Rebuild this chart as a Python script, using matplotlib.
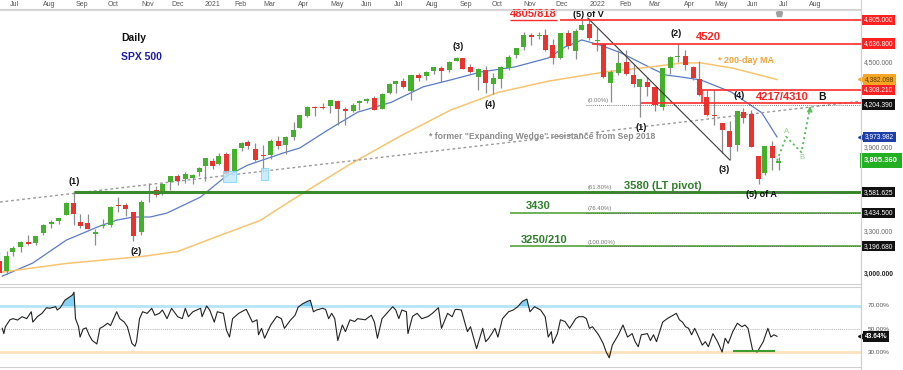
import numpy as np
import pandas as pd
import matplotlib
matplotlib.use("Agg")
import matplotlib.pyplot as plt
from matplotlib.patches import Rectangle

plt.rcParams['font.family'] = ['Liberation Sans', 'DejaVu Sans']

# ---------------- data ----------------
BASE = np.datetime64('2020-06-26')
HOLIDAYS = ['2020-07-03', '2020-09-07', '2020-11-26', '2020-12-25', '2021-01-01',
            '2021-01-18', '2021-02-15', '2021-04-02', '2021-05-31', '2021-07-05',
            '2021-09-06', '2021-11-25', '2021-12-24', '2022-01-17', '2022-02-21',
            '2022-04-15', '2022-05-30', '2022-06-20', '2022-07-04', '2022-09-05']

week_end = pd.date_range('2020-06-26', '2022-07-08', freq='W-FRI')

opens = [3094, 3018, 3155, 3191, 3224, 3219, 3288, 3356, 3380, 3418, 3507, 3371, 3363, 3285,
         3342, 3350, 3493, 3493, 3441, 3296, 3584, 3600, 3566, 3654, 3698, 3675, 3684,
         3723, 3764, 3803, 3781, 3851, 3731, 3892, 3939, 3885, 3843, 3844, 3942, 3917, 3971,
         4034, 4124, 4182, 4185, 4192, 4229, 4169, 4160, 4216, 4229, 4248, 4174, 4285, 4352,
         4373, 4297, 4416, 4407, 4439, 4463, 4450, 4514, 4536, 4474, 4402, 4450, 4348, 4385,
         4463, 4554, 4610, 4701, 4689, 4700, 4628, 4538, 4710, 4588, 4733,
         4778, 4655, 4632, 4357, 4431, 4505, 4412, 4332, 4363, 4327, 4188, 4462, 4541, 4548,
         4474, 4385, 4259, 4131, 4075, 4013, 3920, 4153, 4135, 3838, 3715, 3913, 3792]
highs = [3155, 3165, 3198, 3233, 3280, 3272, 3352, 3387, 3399, 3509, 3588, 3425, 3429, 3317,
         3393, 3482, 3550, 3502, 3441, 3529, 3646, 3628, 3645, 3699, 3712, 3727, 3711,
         3760, 3826, 3824, 3861, 3870, 3887, 3935, 3951, 3928, 3915, 3960, 3983, 3978, 4083,
         4129, 4191, 4194, 4218, 4238, 4238, 4188, 4217, 4234, 4249, 4262, 4286, 4356, 4372,
         4394, 4415, 4430, 4441, 4469, 4480, 4513, 4545, 4536, 4492, 4465, 4477, 4429, 4475,
         4559, 4608, 4718, 4714, 4718, 4743, 4672, 4713, 4731, 4740, 4808,
         4819, 4749, 4632, 4453, 4595, 4590, 4490, 4385, 4402, 4327, 4465, 4546, 4637, 4594,
         4476, 4512, 4308, 4307, 4076, 4090, 4158, 4177, 4168, 3838, 3913, 3946, 3832]
lows = [3004, 2999, 3128, 3153, 3209, 3203, 3280, 3328, 3356, 3416, 3349, 3330, 3322, 3209,
        3324, 3332, 3441, 3413, 3234, 3280, 3512, 3545, 3559, 3594, 3633, 3647, 3636,
        3699, 3663, 3749, 3775, 3694, 3725, 3874, 3885, 3805, 3723, 3815, 3891, 3853, 3955,
        4034, 4114, 4124, 4172, 4142, 4057, 4062, 4150, 4168, 4215, 4164, 4173, 4278, 4289,
        4321, 4233, 4372, 4382, 4424, 4367, 4436, 4513, 4456, 4427, 4305, 4289, 4278, 4322,
        4447, 4537, 4595, 4630, 4672, 4585, 4495, 4531, 4600, 4531, 4733,
        4662, 4582, 4395, 4223, 4415, 4411, 4327, 4115, 4262, 4157, 4162, 4424, 4507, 4450,
        4381, 4268, 4124, 4062, 3859, 3811, 3875, 4074, 3901, 3636, 3705, 3738, 3742]
closes = [3009, 3130, 3185, 3225, 3216, 3271, 3351, 3373, 3397, 3508, 3427, 3341, 3319, 3298,
          3348, 3477, 3484, 3465, 3270, 3510, 3585, 3558, 3638, 3699, 3663, 3709, 3703,
          3756, 3824, 3768, 3841, 3714, 3887, 3934, 3907, 3811, 3842, 3943, 3913, 3975, 4020,
          4129, 4185, 4180, 4181, 4233, 4174, 4156, 4204, 4230, 4247, 4166, 4281, 4352, 4370,
          4327, 4412, 4395, 4437, 4468, 4442, 4509, 4535, 4458, 4433, 4455, 4357, 4391, 4471,
          4545, 4605, 4697, 4682, 4698, 4595, 4538, 4712, 4620, 4726, 4766,
          4677, 4663, 4398, 4432, 4501, 4419, 4349, 4385, 4329, 4204, 4463, 4543, 4546, 4488,
          4393, 4272, 4132, 4123, 4024, 3901, 4158, 4109, 3901, 3675, 3911, 3825, 3805]

ma50_dates = ['2020-06-26', '2020-07-27', '2020-08-26', '2020-09-28', '2020-10-13', '2020-10-28',
              '2020-11-12', '2020-11-30', '2020-12-31', '2021-01-26', '2021-02-17', '2021-03-22',
              '2021-04-07', '2021-05-03', '2021-06-01', '2021-07-01', '2021-08-02', '2021-08-26',
              '2021-09-24', '2021-10-26', '2021-11-26', '2021-12-13', '2021-12-29', '2022-01-14',
              '2022-02-04', '2022-03-03', '2022-03-18', '2022-04-01', '2022-04-21', '2022-05-19',
              '2022-06-17', '2022-07-05']
ma50_vals = [2985, 3078, 3241, 3341, 3383, 3405, 3405, 3433, 3547, 3689, 3774, 3859, 3895,
             4020, 4150, 4220, 4330, 4379, 4436, 4471, 4535, 4613, 4663, 4627, 4570, 4471,
             4414, 4400, 4379, 4293, 4146, 3974]

ma200_dates = ['2020-06-26', '2020-08-26', '2020-11-05', '2020-12-09', '2021-01-15', '2021-03-01',
               '2021-04-07', '2021-05-24', '2021-07-12', '2021-08-26', '2021-10-11', '2021-11-26',
               '2022-01-21', '2022-03-04', '2022-04-04', '2022-04-21', '2022-05-20', '2022-07-05']
ma200_vals = [3014, 3075, 3125, 3160, 3263, 3380, 3560, 3780, 3980, 4165, 4290, 4370, 4437,
              4471, 4500, 4500, 4463, 4382]

# RSI(14): sessions since 26 Jun 2020, value in %
rsi_day = [0, 1, 2, 5, 7, 10, 13, 16, 19, 20, 23, 26, 29, 31, 35, 36, 38, 41, 46, 47, 48, 50,
           51, 53, 55, 57, 59, 62, 64, 66, 69, 71, 75, 77, 80, 82, 85, 87, 88, 90, 92, 95, 98,
           100, 103, 105, 108, 111, 115, 118, 120, 122, 125, 130, 131, 134, 136, 139, 141, 145,
           147, 149, 151, 155, 159, 160, 164, 167, 168, 170, 172, 176, 180, 183, 185, 189, 192,
           194, 197, 200, 202, 204, 206, 210, 212, 214, 216, 218, 220, 223, 225, 228, 231, 233,
           238, 242, 244, 246, 249, 253, 256, 258, 260, 262, 265, 266, 269, 272, 275, 279, 282,
           286, 288, 292, 295, 297, 299, 301, 305, 307, 310, 311, 315, 317, 319, 321, 323, 325,
           328, 332, 335, 338, 341, 344, 346, 349, 353, 356, 358, 360, 361, 364, 366, 369, 372,
           376, 378, 381, 383, 385, 387, 391, 394, 396, 398, 400, 404, 407, 410, 413, 415, 417,
           419, 423, 425, 427, 429, 433, 436, 440, 442, 444, 446, 448, 450, 452, 454, 456, 459,
           461, 463, 466, 469, 472, 474, 476, 479, 482, 485, 487, 489, 492, 495, 499, 502, 504,
           506, 508]
rsi_vals = [50.6, 46, 52, 58, 59, 57.8, 60.7, 59, 65, 56, 60.7, 63.6, 68.5, 68, 69.4, 66.5, 68.5,
            75, 79.5, 82, 59, 52, 43, 50, 51, 44.6, 40, 37, 50.6, 52, 55, 53, 65, 59, 56, 52,
            37.5, 35, 39, 59, 65, 63.6, 68, 62, 63.6, 66.5, 59, 68, 60.7, 59, 68, 60.7, 65, 68,
            60.7, 70, 66.5, 56, 65, 63.6, 49, 43, 59, 63.6, 66.5, 67, 56, 58, 45, 50.6, 42, 53.5,
            61, 59, 50.6, 57.8, 62, 69, 72, 74, 75, 65, 66.5, 68, 67, 59, 63.6, 59, 40, 53.5,
            47.7, 58, 56.5, 59, 58, 62, 56, 42, 59, 65, 69.4, 66.5, 59, 66.5, 65, 46, 61, 63.6,
            59, 60.7, 63.6, 68.5, 50.6, 63.6, 60.7, 67, 67, 66.5, 47.7, 52, 37.5, 33, 50.6, 39,
            42, 46, 50.6, 43, 59, 65, 66.5, 69.4, 74, 76, 65, 69.4, 66.5, 60.7, 43, 47.7, 37.5,
            46, 58, 56.5, 50.6, 59, 60.7, 60.7, 59, 50.6, 52, 45, 37.5, 30, 25, 36, 45, 53.5, 43,
            46, 39, 34.6, 45, 46, 40, 45, 39, 56, 59, 62, 63.6, 58, 56, 52, 50.6, 45, 50.6, 45,
            36, 39, 34.6, 46, 39, 30, 42, 37.5, 47.7, 55, 52, 53.5, 50.6, 31.7, 30, 39, 50.6, 43,
            45, 43.64]

# key levels
red_levels = [4805.0, 4636.8, 4308.21]
red_level_start = ['2021-12-08', '2022-01-07', '2022-04-22']
fib_levels = [4204.39, 3581.625, 3434.5, 3196.68]
fib_labels = ['(0.00%)', '(61.80%)', '(76.40%)', '(100.00%)']
pivot_level = 3581.625
support_levels = [3434.5, 3196.68]
b_zone_low = 4217.0

wave_dates = ['2020-09-02', '2020-10-30', '2021-09-02', '2021-10-04', '2022-01-04',
              '2022-02-24', '2022-03-29', '2022-05-18', '2022-06-02', '2022-06-17']
wave_prices = [3588, 3234, 4545, 4279, 4819, 4115, 4637, 3811, 4177, 3636]
wave_text = ['(1)', '(2)', '(3)', '(4)', '(5) of V', '(1)', '(2)', '(3)', '(4)', '(5) of A']
wave_up = [True, False, True, False, True, False, True, False, True, False]

wedge_dates = ['2020-09-02', '2022-01-04']
wedge_prices = [3573, 4001]
trend_dates = ['2022-01-04', '2022-05-18']
trend_prices = [4818, 3811]
touch_dates = ['2021-01-29', '2021-03-04']
touch_low = [3654, 3668]
touch_high = [3732, 3753]
touch_days = [8, 5]

proj_ahead = [0, 6, 16, 22]
proj_prices = [3805, 3975, 3865, 4205]

last_price = 3805.36
last_ma50 = 3973.982
last_ma200 = 4382.098
last_rsi = 43.64

# ---------------- helpers ----------------
W, H = 904, 370
PX0, PXD = 2.3, 1.525          # pixel of session 0, pixels per session
PLOT_R = 861


def tidx(d):
    return int(np.busday_count(BASE, np.datetime64(str(d)[:10]), holidays=HOLIDAYS))


fig = plt.figure(figsize=(W / 100, H / 100), dpi=100)
ax = fig.add_axes([0, (H - 284) / H, PLOT_R / W, (284 - 9) / H])
ar = fig.add_axes([0, (H - 367) / H, PLOT_R / W, (367 - 287) / H])
xlim = ((0 - PX0) / PXD, (PLOT_R - PX0) / PXD)
for a in (ax, ar):
    a.set_xlim(*xlim)
    a.set_xticks([])
    a.set_yticks([])
    for s in a.spines.values():
        s.set_color('#d0d0d0')
        s.set_linewidth(0.8)
    a.spines['left'].set_visible(False)
ax.set_ylim(2929, 4883)
ar.set_ylim(17.0, 86.5)

# candles
xc = np.array([tidx(d) - 2 for d in week_end], dtype=float)
o, h, l, c = map(np.array, (opens, highs, lows, closes))
up = c >= o
ax.vlines(xc, l, h, color='#8c8c8c', lw=0.9, zorder=3)
body_h = np.maximum(np.abs(c - o), 4)
ax.bar(xc, body_h, bottom=np.minimum(o, c), width=3.3,
       color=np.where(up, '#45b02c', '#e8332f'), edgecolor='none', zorder=4)

# moving averages
ax.plot([tidx(d) for d in ma50_dates], ma50_vals, color='#5b7bc9', lw=0.9, zorder=2)
ax.plot([tidx(d) for d in ma200_dates], ma200_vals, color='#f7c46f', lw=1.1, zorder=2)

xr = xlim[1]
# wedge resistance (dotted grey)
wx = [tidx(d) for d in wedge_dates]
slope = (wedge_prices[1] - wedge_prices[0]) / (wx[1] - wx[0])
ax.plot([xlim[0], xr], [wedge_prices[0] + slope * (xlim[0] - wx[0]),
                        wedge_prices[0] + slope * (xr - wx[0])],
        ls=(0, (2, 2)), color='#9a9a9a', lw=1.0, zorder=2)
# downtrend line
ax.plot([tidx(d) for d in trend_dates], trend_prices, color='#3a3a3a', lw=0.8, zorder=5)

# red levels
for lv, sd in zip(red_levels[:2], red_level_start[:2]):
    ax.hlines(lv, tidx(sd), xr, color='#ff2b2b', lw=1.2, zorder=5)
ax.hlines(red_levels[0], tidx('2021-10-21'), tidx('2021-12-06'), color='#ff2b2b', lw=1.0, zorder=5)
bx = tidx(red_level_start[2])
ax.hlines(red_levels[2], bx, xr, color='#ff2b2b', lw=1.2, zorder=5)
ax.vlines(bx, b_zone_low, red_levels[2], color='#ff2b2b', lw=1.2, zorder=5)
ax.hlines(b_zone_low, tidx('2022-02-24'), xr, color='#ff2b2b', lw=1.2, zorder=5)

# fib / support levels
fib_x = tidx('2022-01-03')
ax.hlines(pivot_level, tidx('2020-09-02'), xr, color='#3d8b2f', lw=2.2, zorder=5)
for lv in support_levels:
    ax.hlines(lv, tidx('2021-10-21'), xr, color='#62ab4c', lw=1.3, zorder=5)
for lv, lab in zip(fib_levels, fib_labels):
    ax.hlines(lv, fib_x, xr, color='#555555', lw=0.6, ls=(0, (1, 1.5)), zorder=6)
    ax.text(fib_x + 0.5, lv + 12, lab, fontsize=4.3, color='#777777', ha='left', va='bottom', zorder=7)

# touch boxes
for d, lo, hi, n in zip(touch_dates, touch_low, touch_high, touch_days):
    ax.add_patch(Rectangle((tidx(d) - n / 2, lo), n, hi - lo, facecolor='#bfe9fb',
                           edgecolor='#7fd3f5', lw=0.8, alpha=0.8, zorder=6))

# projection
li = tidx('2022-07-05')
px = [li + k for k in proj_ahead]
ax.plot(px, proj_prices, ls=(0, (1.2, 1.6)), color='#5cbf5c', lw=1.3, zorder=6)
ax.annotate('', xy=(px[-1], proj_prices[-1] + 8), xytext=(px[-1] - 0.6, proj_prices[-1] - 60),
            arrowprops=dict(arrowstyle='-|>,head_width=0.15,head_length=0.3', color='#5cbf5c', lw=1.0),
            zorder=7)
ax.text(px[1] + 0.3, proj_prices[1] + 12, 'A', fontsize=5.5, color='#8ccf8c', ha='center', va='bottom')
ax.text(px[2] + 0.5, proj_prices[2] - 12, 'B', fontsize=5.5, color='#8ccf8c', ha='center', va='top')

# wave labels (pixel offsets are layout only)
wave_off = {4: (0, 2.5), 7: (-4, -4), 8: (-4, 6)}
for k, (d, p, t, u) in enumerate(zip(wave_dates, wave_prices, wave_text, wave_up)):
    dx, dy = wave_off.get(k, (0, 4 if u else -4))
    ax.annotate(t, xy=(tidx(d), p), xytext=(dx, dy), textcoords='offset points',
                ha='center', va=('center' if k == 4 else ('bottom' if u else 'top')),
                fontsize=6.5, fontweight='bold', color='#111111', zorder=8)

# titles and level texts
T = dict(fontweight='bold', zorder=9)
ax.text(tidx('2020-10-28'), 4675, 'Daily', fontsize=7.5, color='#111111', ha='center', va='center', **T)
ax.text(tidx('2020-11-04'), 4545, 'SPX 500', fontsize=7.5, color='#1c1ca8', ha='center', va='center', **T)
ax.text(tidx('2021-10-21'), 4815, '4805/818', fontsize=8, color='#ff2020', ha='left', va='bottom', **T)
ax.text(tidx('2022-04-18'), 4645, '4520', fontsize=8, color='#ff2020', ha='left', va='bottom', **T)
ax.text(tidx('2022-06-13'), 4222, '4217/4310', fontsize=8, color='#ff2020', ha='left', va='bottom', **T)
ax.text(tidx('2022-08-11'), 4222, 'B', fontsize=7.5, color='#111111', ha='left', va='bottom', **T)
ax.text(tidx('2022-05-06'), 4520, '* 200-day MA', fontsize=6.5, color='#f2a33a', ha='left', va='center', **T)
ax.text(tidx('2022-02-08'), 3590, '3580 (LT pivot)', fontsize=8, color='#2f7f2a', ha='left', va='bottom', **T)
ax.text(tidx('2021-11-04'), 3445, '3430', fontsize=8, color='#2f7f2a', ha='left', va='bottom', **T)
ax.text(tidx('2021-11-01'), 3205, '3250/210', fontsize=8, color='#2f7f2a', ha='left', va='bottom', **T)
ax.text(tidx('2021-08-06'), 3975, '* former "Expanding Wedge" resistance from Sep 2018',
        fontsize=6.2, color='#8c8c8c', ha='left', va='center', **T)

# event marker at top
ax.plot([tidx('2022-07-06')], [4858], marker='p', ms=5, color='#a0a0a0', clip_on=False, zorder=9)


# ---------------- right-hand price labels ----------------
def rlabel(a, y, txt, fc=None, tc='white', fs=4.8, bold=False, arrow=False, pad=0.25, dx=3):
    kw = dict(xycoords=a.get_yaxis_transform(), textcoords='offset pixels', xytext=(dx, 0),
              ha='left', va='center', fontsize=fs, color=tc, annotation_clip=False,
              fontweight='bold' if bold else 'normal', zorder=10)
    if fc is not None:
        kw['bbox'] = dict(boxstyle='square,pad=%s' % pad, fc=fc, ec='none')
    a.annotate(txt, xy=(1.0, y), **kw)
    if arrow:
        a.plot([1.0], [y], marker='<', ms=4.0, color=fc, transform=a.get_yaxis_transform(),
               clip_on=False, zorder=9)


rlabel(ax, 4805.0, '4,805.000', '#ff2020')
rlabel(ax, 4636.8, '4,636.800', '#ff2020')
rlabel(ax, 4500.0, '4,500.000', None, '#666666')
rlabel(ax, last_ma200, '4,382.098', '#f5a623', '#5a3a00', arrow=True, dx=4)
rlabel(ax, 4308.21, '4,308.210', '#ff2020')
rlabel(ax, 4204.39, '4,204.390', '#111111')
rlabel(ax, last_ma50, '3,973.982', '#1f3fa8', arrow=True, dx=4)
rlabel(ax, 3900.0, '3,900.000', None, '#666666')
rlabel(ax, last_price, '3,805.360', '#22b022', fs=5.5, bold=True, pad=0.55)
rlabel(ax, 3581.625, '3,581.625', '#111111')
rlabel(ax, 3434.5, '3,434.500', '#111111')
rlabel(ax, 3300.0, '3,300.000', None, '#666666')
rlabel(ax, 3196.68, '3,196.680', '#111111')
rlabel(ax, 3000.0, '3,000.000', None, '#222222', bold=True)

# ---------------- RSI panel ----------------
rx = np.array(rsi_day, dtype=float)
rv = np.array(rsi_vals)
ar.axhline(70, color='#b5e3f7', lw=2.0, zorder=1)
ar.axhline(30, color='#fde2bd', lw=2.0, zorder=1)
ar.axhline(50, color='#9a9a9a', lw=0.6, ls=(0, (1, 1.5)), zorder=1)
ar.fill_between(rx, rv, 70, where=rv > 70, interpolate=True, color='#5fc3ee', alpha=0.75, lw=0, zorder=2)
ar.fill_between(rx, rv, 30, where=rv < 30, interpolate=True, color='#f2b24a', alpha=0.8, lw=0, zorder=2)
ar.plot(rx, rv, color='#222222', lw=0.8, zorder=3)
ar.hlines(31, tidx('2022-05-20'), tidx('2022-07-01'), color='#3d9b2f', lw=1.5, zorder=4)

rlabel(ar, 70, '70.00%', None, '#555555', fs=4.6, dx=7)
rlabel(ar, 50, '50.00%', None, '#555555', fs=4.6, dx=7)
rlabel(ar, 30, '30.00%', None, '#555555', fs=4.6, dx=7)
rlabel(ar, last_rsi, '43.64%', '#111111', fs=4.8, bold=True, arrow=True, dx=4)

# ---------------- month labels along the top ----------------
months = pd.date_range('2020-07-01', '2022-08-01', freq='MS')
for m in months:
    first = np.busday_offset(np.datetime64(m.strftime('%Y-%m-%d')), 0, roll='forward', holidays=HOLIDAYS)
    xi = tidx(first)
    xpx = PX0 + PXD * xi + 3
    lab = str(m.year) if m.month == 1 else m.strftime('%b')
    fig.text(xpx / W, 1 - 4.8 / H, lab, fontsize=5, color='#555555', ha='left', va='center')

fig.add_artist(plt.Line2D([PLOT_R / W, PLOT_R / W], [0, 1], color='#d0d0d0', lw=0.8))
fig.add_artist(plt.Line2D([0, PLOT_R / W], [1 - 9.5 / H, 1 - 9.5 / H], color='#d8d8d8', lw=0.8))

fig.savefig('out.png', dpi=100)
